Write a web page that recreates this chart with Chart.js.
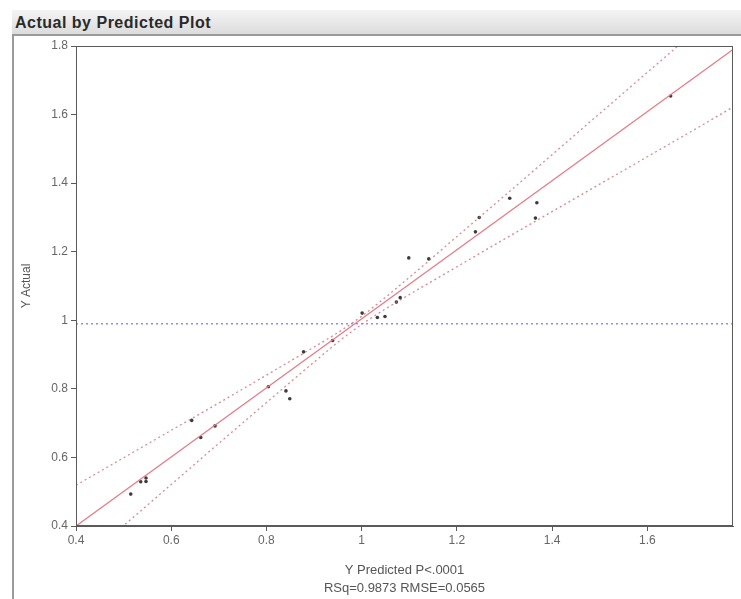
<!DOCTYPE html>
<html>
<head>
<meta charset="utf-8">
<script src="https://cdn.jsdelivr.net/npm/chart.js@4"></script>
<style>
  html, body { margin: 0; padding: 0; background: #fff; }
  body { width: 741px; height: 599px; position: relative; overflow: hidden; font-family: "Liberation Sans", Arial, sans-serif; }
  .hdr {
    position: absolute; left: 12px; top: 10px; width: 726px; height: 24px;
    background: linear-gradient(#f4f4f4, #dcdcdc);
    border-bottom: 2px solid #9a9a9a;
    font-weight: bold; font-size: 16px; letter-spacing: 0.5px; color: #2a2a2a; line-height: 25px; padding-left: 3px;
  }
  .frame { position: absolute; left: 12px; top: 36px; width: 2px; height: 563px; background: #9a9a9a; }
  #chart { position: absolute; left: 0; top: 0; }
</style>
</head>
<body>
<div class="hdr">Actual by Predicted Plot</div>
<div class="frame"></div>
<canvas id="chart" width="741" height="599"></canvas>
<script>
// values
const predicted = [0.515, 0.536, 0.547, 0.547, 0.643, 0.662, 0.692, 0.804, 0.841, 0.849, 0.878, 0.939,
  1.001, 1.033, 1.049, 1.073, 1.081, 1.099, 1.141, 1.239, 1.247, 1.311, 1.365, 1.368, 1.649];
const actual = [0.493, 0.529, 0.540, 0.530, 0.708, 0.658, 0.692, 0.806, 0.794, 0.771, 0.908, 0.941,
  1.021, 1.008, 1.011, 1.053, 1.066, 1.182, 1.179, 1.258, 1.300, 1.356, 1.298, 1.343, 1.654];

const fitX = [0.4, 1.78];
const fitY = [0.4, 1.79];

const upperX = [0.4, 0.5, 0.6, 0.7, 0.8, 0.9, 0.95, 1.0, 1.05, 1.1, 1.2, 1.3, 1.4, 1.5, 1.6, 1.7];
const upperY = [0.519, 0.599, 0.679, 0.759, 0.840, 0.922, 0.964, 1.012, 1.067, 1.125, 1.244, 1.363, 1.483, 1.603, 1.723, 1.843];
const lowerX = [0.4, 0.5, 0.6, 0.7, 0.8, 0.9, 0.95, 1.0, 1.05, 1.1, 1.2, 1.3, 1.4, 1.5, 1.6, 1.7, 1.78];
const lowerY = [0.281, 0.401, 0.521, 0.641, 0.760, 0.878, 0.936, 0.988, 1.033, 1.075, 1.156, 1.237, 1.317, 1.397, 1.477, 1.557, 1.622];

const meanY = 0.99;

const xMin = 0.4, xMax = 1.78;
const yMin = 0.4, yMax = 1.8;
const xTicks = [0.4, 0.6, 0.8, 1, 1.2, 1.4, 1.6];
const yTicks = [0.4, 0.6, 0.8, 1, 1.2, 1.4, 1.6, 1.8];

const xTitle = ["Y Predicted P<.0001", "RSq=0.9873 RMSE=0.0565"];
const yTitle = "Y Actual";

const pairs = (xs, ys) => xs.map((x, i) => ({ x: x, y: ys[i] }));

// box round the plot area
const frameBox = {
  id: "frameBox",
  afterDraw(chart) {
    const a = chart.chartArea, c = chart.ctx;
    c.save();
    c.strokeStyle = "#5a5a5a";
    c.lineWidth = 1;
    c.strokeRect(a.left + 0.5, a.top + 0.5, a.right - a.left - 1, a.bottom - a.top - 1);
    c.restore();
  },
};

const axisFont = { family: "'Liberation Sans', Arial, sans-serif", size: 12 };

new Chart(document.getElementById("chart").getContext("2d"), {
  type: "scatter",
  data: {
    datasets: [
      {
        type: "line", data: [{ x: xMin, y: meanY }, { x: xMax, y: meanY }],
        borderColor: "#8d8df5", borderWidth: 1.5, borderDash: [2, 3], pointRadius: 0,
      },
      {
        type: "line", data: pairs(upperX, upperY),
        borderColor: "rgba(200,100,110,0.75)", borderWidth: 1.3, borderDash: [2, 3], pointRadius: 0,
        cubicInterpolationMode: "monotone",
      },
      {
        type: "line", data: pairs(lowerX, lowerY),
        borderColor: "rgba(200,100,110,0.75)", borderWidth: 1.3, borderDash: [2, 3], pointRadius: 0,
        cubicInterpolationMode: "monotone",
      },
      {
        type: "line", data: pairs(fitX, fitY),
        borderColor: "#e67a86", borderWidth: 1.3, pointRadius: 0,
      },
      {
        data: pairs(predicted, actual),
        backgroundColor: "#3c3c3c", borderColor: "#3c3c3c", pointRadius: 1.8, borderWidth: 0,
      },
    ],
  },
  options: {
    responsive: false,
    animation: false,
    events: [],
    layout: { padding: { top: 46, right: 8, left: 0, bottom: 0 } },
    plugins: { legend: { display: false }, tooltip: { enabled: false } },
    scales: {
      x: {
        type: "linear", min: xMin, max: xMax,
        afterBuildTicks: (s) => { s.ticks = xTicks.map((v) => ({ value: v })); },
        afterFit: (s) => { s.height = 73; },
        grid: { drawOnChartArea: false, drawTicks: true, tickLength: 5, color: "#5a5a5a" },
        border: { display: true, color: "#5a5a5a" },
        ticks: { color: "#666", font: axisFont, padding: 2, maxRotation: 0, callback: (v) => String(v) },
        title: { display: true, text: xTitle, color: "#555", font: { ...axisFont, size: 13, lineHeight: 1.35 }, padding: { top: 4, bottom: 2 } },
      },
      y: {
        type: "linear", min: yMin, max: yMax,
        afterBuildTicks: (s) => { s.ticks = yTicks.map((v) => ({ value: v })); },
        afterFit: (s) => { s.width = 76; },
        grid: { drawOnChartArea: false, drawTicks: true, tickLength: 5, color: "#5a5a5a" },
        border: { display: true, color: "#5a5a5a" },
        ticks: { color: "#666", font: axisFont, padding: 3, callback: (v) => String(v) },
        title: { display: true, text: yTitle, color: "#555", font: axisFont, padding: { top: 19, bottom: 0 } },
      },
    },
  },
  plugins: [frameBox],
});
</script>
</body>
</html>
